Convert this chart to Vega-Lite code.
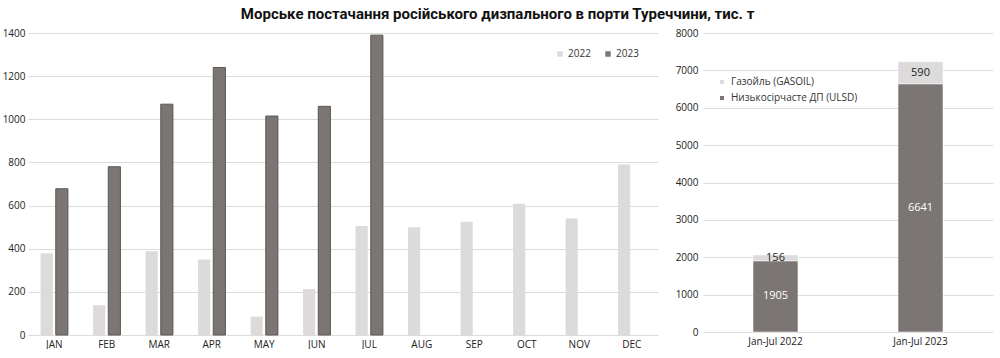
{
  "$schema": "https://vega.github.io/schema/vega-lite/v6.json",
  "padding": {"left": 2, "top": 7, "right": 5, "bottom": 0},
  "background": "white",
  "title": {
    "text": "Морське постачання російського дизпального в порти Туреччини, тис. т",
    "font": "Roboto",
    "fontSize": 15,
    "fontWeight": "bold",
    "color": "#111111",
    "anchor": "middle",
    "offset": 6
  },
  "config": {
    "view": {"stroke": null},
    "font": "Open Sans",
    "axis": {
      "labelFont": "Open Sans",
      "labelFontSize": 10,
      "labelColor": "#222222",
      "domain": false,
      "ticks": false,
      "gridColor": "#dcdcdc",
      "gridWidth": 1
    },
    "legend": {"labelFont": "Open Sans", "labelFontSize": 10, "labelColor": "#333333"}
  },
  "spacing": 17,
  "resolve": {"scale": {"color": "independent"}, "legend": {"color": "independent"}},
  "datasets": {
    "monthly": [
      {"month": "JAN", "year": "2022", "value": 378},
      {"month": "FEB", "year": "2022", "value": 138},
      {"month": "MAR", "year": "2022", "value": 388},
      {"month": "APR", "year": "2022", "value": 350},
      {"month": "MAY", "year": "2022", "value": 85},
      {"month": "JUN", "year": "2022", "value": 213},
      {"month": "JUL", "year": "2022", "value": 505},
      {"month": "AUG", "year": "2022", "value": 500},
      {"month": "SEP", "year": "2022", "value": 525},
      {"month": "OCT", "year": "2022", "value": 608},
      {"month": "NOV", "year": "2022", "value": 540},
      {"month": "DEC", "year": "2022", "value": 790},
      {"month": "JAN", "year": "2023", "value": 678},
      {"month": "FEB", "year": "2023", "value": 780},
      {"month": "MAR", "year": "2023", "value": 1070},
      {"month": "APR", "year": "2023", "value": 1240},
      {"month": "MAY", "year": "2023", "value": 1015},
      {"month": "JUN", "year": "2023", "value": 1060},
      {"month": "JUL", "year": "2023", "value": 1390}
    ],
    "totals": [
      {"period": "Jan-Jul 2022", "type": "Низькосірчасте ДП (ULSD)", "value": 1905},
      {"period": "Jan-Jul 2022", "type": "Газойль (GASOIL)", "value": 156},
      {"period": "Jan-Jul 2023", "type": "Низькосірчасте ДП (ULSD)", "value": 6641},
      {"period": "Jan-Jul 2023", "type": "Газойль (GASOIL)", "value": 590}
    ]
  },
  "hconcat": [
    {
      "width": 630,
      "height": 302,
      "data": {"name": "monthly"},
      "mark": {"type": "bar", "strokeWidth": 1},
      "encoding": {
        "x": {
          "field": "month",
          "type": "nominal",
          "sort": ["JAN", "FEB", "MAR", "APR", "MAY", "JUN", "JUL", "AUG", "SEP", "OCT", "NOV", "DEC"],
          "scale": {"paddingInner": 0.48, "paddingOuter": 0.24},
          "axis": {"title": null, "labelAngle": 0, "grid": false, "labelPadding": 4}
        },
        "xOffset": {"field": "year", "type": "nominal", "scale": {"paddingInner": 0.2}},
        "y": {
          "field": "value",
          "type": "quantitative",
          "scale": {"domain": [0, 1400], "nice": false},
          "axis": {"title": null, "values": [0, 200, 400, 600, 800, 1000, 1200, 1400], "format": "d", "grid": true, "labelPadding": 3}
        },
        "color": {
          "field": "year",
          "type": "nominal",
          "scale": {"domain": ["2022", "2023"], "range": ["#dcdadb", "#7b7673"]},
          "legend": {
            "title": null,
            "orient": "none",
            "direction": "horizontal",
            "legendX": 527,
            "legendY": 16,
            "symbolType": "square",
            "symbolSize": 30,
            "columnPadding": 12,
            "labelOffset": 3
          }
        },
        "stroke": {"condition": {"test": "datum.year === '2023'", "value": "#5a5653"}, "value": null}
      }
    },
    {
      "width": 290,
      "height": 299,
      "data": {"name": "totals"},
      "transform": [
        {"stack": "value", "groupby": ["period"], "sort": [{"field": "type", "order": "descending"}], "as": ["v0", "v1"]},
        {"calculate": "(datum.v0 + datum.v1) / 2", "as": "mid"}
      ],
      "encoding": {
        "x": {
          "field": "period",
          "type": "nominal",
          "scale": {"paddingInner": 0.69, "paddingOuter": 0.345},
          "axis": {"title": null, "labelAngle": 0, "grid": false, "labelPadding": 4}
        }
      },
      "layer": [
        {
          "mark": {"type": "bar", "stroke": "white", "strokeWidth": 0.5},
          "encoding": {
            "y": {
              "field": "v1",
              "type": "quantitative",
              "scale": {"domain": [0, 8000], "nice": false},
              "axis": {"title": null, "values": [0, 1000, 2000, 3000, 4000, 5000, 6000, 7000, 8000], "format": "d", "grid": true, "labelPadding": 5}
            },
            "y2": {"field": "v0"},
            "color": {
              "field": "type",
              "type": "nominal",
              "scale": {"domain": ["Газойль (GASOIL)", "Низькосірчасте ДП (ULSD)"], "range": ["#dcdadb", "#7b7673"]},
              "legend": {
                "title": null,
                "orient": "none",
                "direction": "vertical",
                "legendX": 14,
                "legendY": 44,
                "symbolType": "square",
                "symbolSize": 30,
                "rowPadding": 4,
                "labelOffset": 4
              }
            }
          }
        },
        {
          "mark": {"type": "text", "fontSize": 11, "font": "Open Sans", "baseline": "middle"},
          "encoding": {
            "y": {
              "field": "mid",
              "type": "quantitative",
              "axis": {"title": null, "values": [0, 1000, 2000, 3000, 4000, 5000, 6000, 7000, 8000], "format": "d", "grid": true, "labelPadding": 5}
            },
            "text": {"field": "value", "type": "quantitative"},
            "color": {"condition": {"test": "datum.type === 'Низькосірчасте ДП (ULSD)'", "value": "#ffffff"}, "value": "#222222"}
          }
        }
      ]
    }
  ]
}
